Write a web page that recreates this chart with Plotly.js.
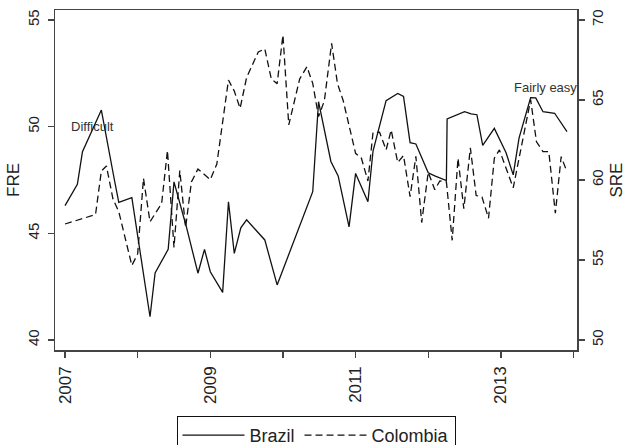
<!DOCTYPE html>
<html>
<head>
<meta charset="utf-8">
<script src="https://cdn.plot.ly/plotly-3.0.1.min.js"></script>
<style>
html,body{margin:0;padding:0;background:#fff;width:626px;height:445px;overflow:hidden;}
#wrap{width:626px;height:445px;overflow:hidden;position:relative;}
#chart{width:626px;height:480px;}
</style>
</head>
<body>
<div id="wrap"><div id="chart"></div></div>
<script>
// Brazil (FRE, left axis)
const brazilX = [2007.00, 2007.17, 2007.24, 2007.50, 2007.68, 2007.74, 2007.92, 2008.17, 2008.24, 2008.42,
  2008.50, 2008.67, 2008.83, 2008.92, 2009.00, 2009.17, 2009.25, 2009.33, 2009.42, 2009.50,
  2009.75, 2009.92, 2010.41, 2010.49, 2010.66, 2010.76, 2010.91, 2011.00, 2011.17, 2011.24,
  2011.42, 2011.58, 2011.66, 2011.75, 2011.83, 2012.00, 2012.09, 2012.25, 2012.26, 2012.50,
  2012.59, 2012.67, 2012.75, 2012.91, 2013.07, 2013.17, 2013.25, 2013.41, 2013.48, 2013.58,
  2013.74, 2013.91];
const brazilFRE = [46.30, 47.30, 48.83, 50.78, 47.50, 46.45, 46.67, 41.09, 43.14, 44.25,
  47.41, 45.31, 43.13, 44.25, 43.20, 42.23, 46.48, 44.06, 45.26, 45.63,
  44.69, 42.58, 46.95, 51.17, 48.37, 47.69, 45.30, 47.81, 46.48, 48.86,
  51.22, 51.56, 51.42, 49.25, 49.19, 47.84, 47.69, 47.47, 50.36, 50.70,
  50.60, 50.56, 49.12, 49.92, 48.79, 47.74, 49.46, 51.36, 51.35, 50.70,
  50.63, 49.77];

// Colombia (SRE, right axis)
const colombiaX = [2007.00, 2007.42, 2007.50, 2007.57, 2007.66, 2007.74, 2007.92, 2008.00, 2008.08, 2008.17,
  2008.33, 2008.41, 2008.50, 2008.58, 2008.66, 2008.74, 2008.83, 2009.00, 2009.09, 2009.25,
  2009.33, 2009.41, 2009.50, 2009.66, 2009.75, 2009.84, 2009.92, 2010.00, 2010.08, 2010.23,
  2010.33, 2010.41, 2010.49, 2010.57, 2010.67, 2010.75, 2010.83, 2011.00, 2011.08, 2011.17,
  2011.24, 2011.33, 2011.42, 2011.49, 2011.58, 2011.66, 2011.75, 2011.83, 2011.91, 2012.00,
  2012.09, 2012.16, 2012.25, 2012.33, 2012.41, 2012.49, 2012.58, 2012.66, 2012.74, 2012.83,
  2012.91, 2012.98, 2013.17, 2013.41, 2013.49, 2013.58, 2013.66, 2013.75, 2013.83, 2013.91];
const colombiaSRE = [57.25, 57.84, 60.56, 60.88, 58.81, 58.02, 54.66, 55.38, 60.10, 57.39,
  58.53, 61.84, 55.78, 60.59, 57.03, 59.88, 60.69, 60.02, 61.00, 66.25,
  65.56, 64.48, 66.41, 68.00, 68.20, 66.31, 66.02, 69.06, 63.44, 66.31,
  67.08, 66.04, 63.96, 64.95, 68.54, 66.04, 64.95, 61.67, 61.36, 59.94,
  62.97, 62.99, 61.88, 63.13, 61.09, 61.53, 58.96, 61.48, 57.34, 60.49,
  59.39, 59.94, 59.88, 56.23, 61.36, 58.20, 62.01, 59.03, 58.94, 57.61,
  61.36, 61.88, 59.51, 65.02, 62.39, 61.77, 61.77, 57.92, 61.46, 60.52];

const seriesNames = ['Brazil', 'Colombia'];
const xTickVals = [2007, 2008, 2009, 2010, 2011, 2012, 2013, 2014];
const xTickText = ['2007', '', '2009', '', '2011', '', '2013', ''];
const freTicks = [40, 45, 50, 55];
const sreTicks = [50, 55, 60, 65, 70];
const notes = [
  {text: 'Difficult', x: 2007.055, y: 50.0},
  {text: 'Fairly easy', x: 2013.15, y: 51.86}
];

const axisCol = '#444';
const font = 'Liberation Sans, Arial, sans-serif';

const traces = [
  {x: brazilX, y: brazilFRE, name: seriesNames[0], type: 'scatter', mode: 'lines',
   line: {color: '#111', width: 1.3}, yaxis: 'y'},
  {x: colombiaX, y: colombiaSRE, name: seriesNames[1], type: 'scatter', mode: 'lines',
   line: {color: '#111', width: 1.3, dash: '7px,4px'}, yaxis: 'y2'}
];

const layout = {
  width: 626, height: 480,
  margin: {l: 55, r: 49, t: 10, b: 130, pad: 0},
  paper_bgcolor: '#fff', plot_bgcolor: '#fff',
  font: {family: font, color: '#222', size: 15},
  showlegend: true,
  legend: {orientation: 'h', x: 0.5, xanchor: 'center', y: -0.194, yanchor: 'top',
    bordercolor: '#111', borderwidth: 1, bgcolor: '#fff', font: {size: 18, color: '#222'},
    itemwidth: 62, traceorder: 'normal'},
  xaxis: {range: [2006.862, 2014.048], tickmode: 'array', tickvals: xTickVals, ticktext: xTickText,
    tickangle: -90, ticks: 'outside', ticklen: 6, tickcolor: axisCol, tickwidth: 1.3, ticklabelstandoff: 2,
    showline: true, linecolor: axisCol, linewidth: 1.5, mirror: true, showgrid: false, zeroline: false,
    tickfont: {size: 17, color: '#222'}},
  yaxis: {range: [39.53, 55.47], tickmode: 'array', tickvals: freTicks, tickangle: -90,
    ticks: 'outside', ticklen: 6, tickcolor: axisCol, tickwidth: 1.3, ticklabelstandoff: 3,
    showline: true, linecolor: axisCol, linewidth: 1.5, showgrid: false, zeroline: false,
    tickfont: {size: 15, color: '#222'},
    title: {text: 'FRE', font: {size: 17, color: '#222'}, standoff: 0}},
  yaxis2: {range: [49.375, 70.625], tickmode: 'array', tickvals: sreTicks, tickangle: -90,
    overlaying: 'y', side: 'right',
    ticks: 'outside', ticklen: 6, tickcolor: axisCol, tickwidth: 1.3,
    showline: true, linecolor: axisCol, linewidth: 1.5, showgrid: false, zeroline: false,
    tickfont: {size: 15, color: '#222'},
    title: {text: 'SRE', font: {size: 17, color: '#222'}, standoff: 6}},
  annotations: notes.map(n => ({text: n.text, x: n.x, y: n.y, xref: 'x', yref: 'y',
    xanchor: 'left', yanchor: 'middle', showarrow: false, font: {size: 13, color: '#333'}}))
};

Plotly.newPlot('chart', traces, layout, {displayModeBar: false, staticPlot: true});
</script>
</body>
</html>
